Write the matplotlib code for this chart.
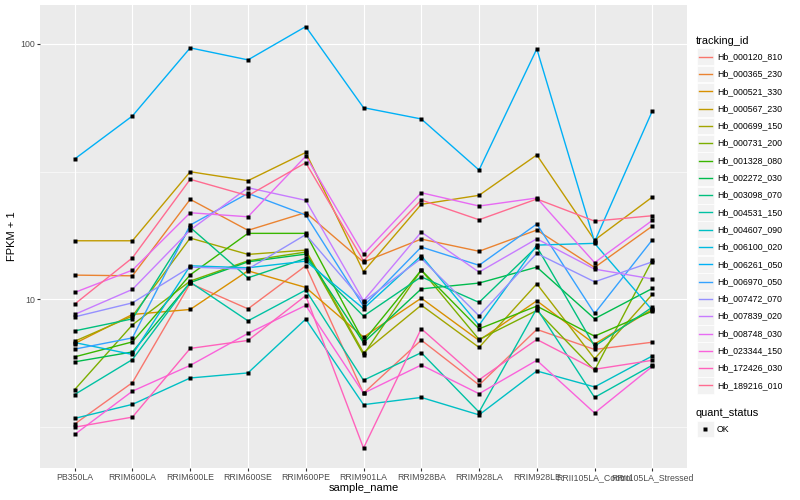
import matplotlib
matplotlib.use('Agg')
import matplotlib.pyplot as plt
from matplotlib.patches import Rectangle
from matplotlib.ticker import FixedLocator, NullFormatter
import numpy as np

plt.rcParams['font.family'] = ['Liberation Sans', 'DejaVu Sans']

samples = ['PB350LA', 'RRIM600LA', 'RRIM600LE', 'RRIM600SE', 'RRIM600PE', 'RRIM901LA',
           'RRIM928BA', 'RRIM928LA', 'RRIM928LE', 'RRII105LA_Control', 'RRII105LA_Stressed']

# FPKM + 1 per gene, in sample order
hb_000120_810 = [3.24, 4.71, 11.52, 9.16, 13.51, 4.28, 6.91, 4.61, 7.61, 6.35, 6.78]
hb_000365_230 = [12.42, 12.34, 24.60, 18.60, 21.84, 13.97, 17.19, 15.40, 18.65, 13.31, 19.33]
hb_000521_330 = [6.70, 8.71, 9.11, 12.91, 11.11, 7.10, 10.09, 6.89, 9.85, 6.67, 9.12]
hb_000567_230 = [16.93, 16.93, 31.56, 29.11, 37.54, 12.82, 23.52, 25.51, 36.71, 17.03, 25.12]
hb_000699_150 = [6.84, 8.58, 17.35, 14.97, 15.56, 6.17, 9.47, 6.47, 11.48, 5.84, 10.44]
hb_000731_200 = [4.42, 7.93, 11.77, 14.13, 15.29, 6.06, 12.99, 6.95, 9.03, 5.26, 14.22]
hb_001328_080 = [5.94, 6.80, 12.45, 18.10, 18.10, 6.84, 13.00, 7.65, 9.39, 7.16, 8.97]
hb_002272_030 = [5.68, 6.21, 11.61, 14.00, 15.01, 6.75, 10.97, 11.56, 13.35, 8.38, 11.01]
hb_003098_070 = [7.51, 8.37, 19.10, 12.12, 14.44, 8.58, 12.23, 9.71, 16.04, 6.54, 9.30]
hb_004531_150 = [4.23, 5.80, 11.66, 8.22, 10.85, 4.81, 6.17, 3.61, 9.19, 4.12, 5.51]
hb_004607_090 = [3.41, 3.87, 4.91, 5.14, 8.35, 3.86, 4.12, 3.52, 5.23, 4.53, 5.99]
hb_006100_020 = [6.76, 6.07, 13.51, 13.27, 14.09, 9.18, 14.79, 7.91, 16.28, 16.54, 9.05]
hb_006261_050 = [35.40, 52.20, 96.45, 86.56, 116.9, 56.25, 50.80, 32.05, 95.59, 16.78, 54.63]
hb_006970_050 = [6.37, 7.05, 19.51, 25.97, 21.36, 9.39, 16.00, 13.57, 19.69, 8.79, 17.08]
hb_007472_070 = [8.52, 9.67, 13.35, 13.11, 17.90, 9.76, 14.44, 8.60, 15.11, 11.69, 14.00]
hb_007839_020 = [8.71, 10.92, 18.65, 27.32, 24.38, 9.85, 18.31, 12.76, 17.23, 13.11, 12.00]
hb_008748_030 = [10.62, 12.99, 21.80, 21.02, 36.31, 15.01, 26.11, 23.16, 24.90, 13.90, 20.35]
hb_023344_150 = [2.95, 4.36, 5.50, 7.34, 9.45, 4.28, 5.52, 4.26, 5.76, 3.58, 5.45]
hb_172426_030 = [3.15, 3.45, 6.41, 6.89, 10.32, 2.61, 7.66, 4.83, 6.95, 5.31, 5.76]
hb_189216_010 = [9.56, 14.52, 29.47, 25.42, 34.23, 14.13, 24.45, 20.46, 24.67, 20.22, 21.22]

genes = ['Hb_000120_810', 'Hb_000365_230', 'Hb_000521_330', 'Hb_000567_230', 'Hb_000699_150',
         'Hb_000731_200', 'Hb_001328_080', 'Hb_002272_030', 'Hb_003098_070', 'Hb_004531_150',
         'Hb_004607_090', 'Hb_006100_020', 'Hb_006261_050', 'Hb_006970_050', 'Hb_007472_070',
         'Hb_007839_020', 'Hb_008748_030', 'Hb_023344_150', 'Hb_172426_030', 'Hb_189216_010']
series = [hb_000120_810, hb_000365_230, hb_000521_330, hb_000567_230, hb_000699_150,
          hb_000731_200, hb_001328_080, hb_002272_030, hb_003098_070, hb_004531_150,
          hb_004607_090, hb_006100_020, hb_006261_050, hb_006970_050, hb_007472_070,
          hb_007839_020, hb_008748_030, hb_023344_150, hb_172426_030, hb_189216_010]

# ggplot hue palette, 20 levels
colors = ['#F8766D', '#EA8331', '#D89000', '#C09B00', '#A3A500', '#7CAE00', '#39B600',
          '#00BB4E', '#00BF7D', '#00C1A3', '#00BFC4', '#00BAE0', '#00B0F6', '#35A2FF',
          '#9590FF', '#C77CFF', '#E76BF3', '#FA62DB', '#FF62BC', '#FF6C91']

fig = plt.figure(figsize=(8, 5), dpi=100)
ax = fig.add_axes([40/800, 1-468/500, (687-40)/800, (468-5)/500])
ax.set_facecolor('#EBEBEB')
ax.set_yscale('log')

x = np.arange(len(samples))
for vals, col in zip(series, colors):
    ax.plot(x, vals, color=col, lw=1.0, zorder=2)
for vals in series:
    ax.plot(x, vals, 's', color='black', ms=2.6, mec='none', zorder=3)

ax.set_xlim(-0.6, len(samples) - 0.4)
ax.set_ylim(2.18, 142)
ax.set_yticks([10, 100])
ax.set_yticklabels(['10', '100'])
ax.yaxis.set_minor_locator(FixedLocator([10**0.5, 10**1.5]))
ax.yaxis.set_minor_formatter(NullFormatter())
ax.set_xticks(x)
ax.set_xticklabels(samples)
ax.grid(which='major', color='white', lw=0.8)
ax.grid(which='minor', axis='y', color='white', lw=0.4)
ax.set_axisbelow(True)
for s in ax.spines.values():
    s.set_visible(False)
ax.tick_params(which='minor', length=0)
ax.tick_params(which='major', length=2, color='#333333', labelsize=6.3,
               labelcolor='#4D4D4D', pad=1.6)

# overlay in pixel coords for titles and legend
ov = fig.add_axes([0, 0, 1, 1])
ov.set_xlim(0, 800)
ov.set_ylim(500, 0)
ov.axis('off')
ov.text(363.5, 488, 'sample_name', fontsize=8, ha='center', va='center')
ov.text(12, 236, 'FPKM + 1', fontsize=8, rotation=90, ha='center', va='center')

ov.text(696, 40.7, 'tracking_id', fontsize=7.9, va='center')
for i, (g, c) in enumerate(zip(genes, colors)):
    yc = 56.7 + i * 17.3
    ov.add_patch(Rectangle((697, yc - 8.4), 16.6, 16.8, fc='#F2F2F2', ec='white', lw=0.5))
    ov.plot([698.5, 711.5], [yc, yc], color=c, lw=1.0)
    ov.text(717, yc, g, fontsize=6.3, va='center')

ov.text(696, 412.7, 'quant_status', fontsize=7.9, va='center')
ov.add_patch(Rectangle((697, 429 - 8.4), 16.6, 16.8, fc='#F2F2F2', ec='white', lw=0.5))
ov.plot([705.3], [429], 's', color='black', ms=2.6, mec='none')
ov.text(717, 429, 'OK', fontsize=6.3, va='center')

fig.savefig('out.png', dpi=100)
